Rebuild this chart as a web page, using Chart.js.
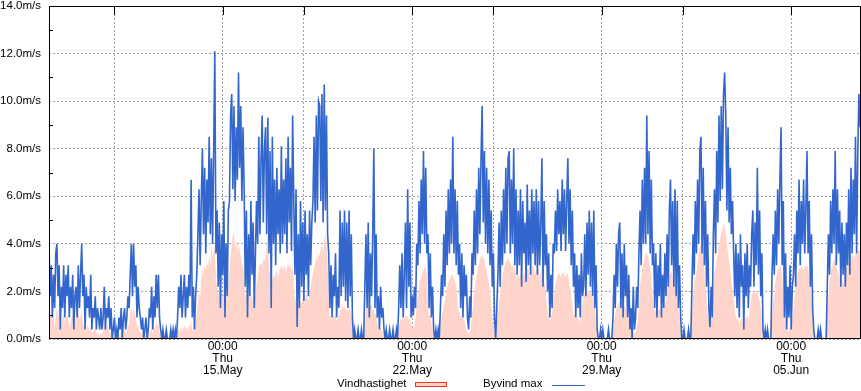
<!DOCTYPE html>
<html>
<head>
<meta charset="utf-8">
<script src="https://cdn.jsdelivr.net/npm/chart.js@4.4.1/dist/chart.umd.min.js"></script>
<style>
  body { margin: 0; background: #fff; }
  #wrap { position: relative; width: 861px; height: 391px; font-family: 'Liberation Sans', Arial, sans-serif; font-size: 11.5px; color: #000; }
  .leg { position: absolute; top: 376px; line-height: 14px; white-space: nowrap; }
  #boxAvg { position: absolute; left: 415px; top: 382px; width: 30px; height: 3px; border: 1px solid #ee3a1c; background: #ffd5cb; }
  #lineMax { position: absolute; left: 552px; top: 385px; width: 33px; height: 1px; background: #3366cc; }
</style>
</head>
<body>
<div id="wrap">
  <canvas id="wind" width="861" height="391"></canvas>
  <div class="leg" style="left:337px">Vindhastighet</div>
  <div id="boxAvg"></div>
  <div class="leg" style="left:483px">Byvind max</div>
  <div id="lineMax"></div>
</div>
<script>
// hourly values, first value = 8.May 14:00, one row per 24 hours
var byvindMax = [
  4.0,1.8,3.1,0.9,2.7,1.3,3.6,4.0,1.8,3.1,0.4,2.2,1.3,3.1,0.9,2.7,1.8,3.1,0.9,2.2,1.3,2.7,0.4,1.8,
  2.2,0.9,3.1,1.3,2.7,4.0,1.8,2.7,0.4,2.2,1.3,1.8,0.9,2.7,0.4,1.3,0.9,1.8,0.4,1.3,0.9,0.4,1.3,0.4,
  0.9,2.2,0.4,1.3,0.9,1.8,0.4,1.3,0.0,0.4,0.9,0.0,0.4,0.0,0.9,0.4,1.3,0.0,0.9,1.3,0.4,0.9,1.8,1.3,
  2.7,4.0,1.8,4.0,2.2,3.1,0.9,2.2,1.3,0.9,0.4,0.9,0.0,0.4,0.9,0.0,0.4,1.3,0.9,2.2,0.4,1.8,0.9,2.7,
  1.3,2.7,0.9,0.4,0.0,0.4,0.0,0.0,0.4,0.0,0.0,0.0,0.4,0.0,0.4,0.0,0.4,0.0,0.9,2.2,1.3,2.7,0.9,1.8,
  2.7,0.9,2.2,1.3,2.7,1.8,6.7,0.9,2.2,0.4,1.8,2.7,4.4,6.3,3.1,5.8,8.0,4.4,7.2,3.6,6.7,4.9,8.5,4.4,
  7.6,4.0,8.0,12.1,3.6,5.4,2.2,4.9,1.3,4.4,2.7,5.8,0.9,4.0,1.8,5.4,5.8,9.4,10.3,6.3,9.8,5.8,8.9,6.7,
  11.2,7.2,9.8,5.8,8.9,6.3,2.2,5.4,0.9,4.4,1.8,5.8,2.7,4.9,1.3,3.6,5.8,4.0,8.5,4.4,7.6,9.4,4.9,8.0,
  8.9,4.4,9.3,3.6,7.9,1.3,8.5,4.0,6.7,3.1,7.2,4.4,6.3,3.6,8.1,4.0,6.7,4.4,7.6,3.6,8.5,4.9,7.2,3.7,
  9.4,5.8,2.7,6.3,0.5,4.4,1.3,5.8,2.2,4.9,1.6,5.4,2.7,4.4,1.8,5.4,3.1,4.9,5.8,8.5,4.9,9.4,5.4,10.0,
  9.8,5.8,10.3,4.9,10.7,5.4,9.4,4.4,3.6,1.3,3.1,0.9,2.7,1.8,3.6,0.9,2.2,1.3,5.4,1.8,4.9,2.2,5.4,1.6,
  4.9,1.3,5.4,1.8,4.4,0.9,0.0,0.4,0.0,0.0,0.4,0.0,0.0,0.4,0.0,0.0,2.2,4.4,1.3,4.9,0.9,3.6,1.8,4.4,
  8.0,1.3,4.4,0.9,1.8,0.4,2.2,0.9,1.3,0.4,0.0,0.4,0.0,0.0,0.4,0.0,0.0,0.4,0.0,0.0,0.4,0.0,1.3,3.1,
  1.3,3.6,0.9,2.7,4.9,1.3,6.3,2.2,4.9,0.9,1.8,1.0,2.2,1.3,4.0,3.1,5.8,3.6,6.7,4.4,7.9,4.0,7.2,3.6,
  4.4,1.3,3.6,0.9,2.2,0.4,0.0,0.4,0.0,0.4,0.0,1.3,2.7,1.8,4.4,2.2,5.4,3.1,6.3,3.6,6.7,4.0,8.5,3.6,
  6.3,3.1,5.8,2.7,4.0,1.3,3.6,0.9,3.1,1.8,2.7,0.9,0.4,1.8,0.9,3.6,2.7,5.4,3.1,6.3,3.6,7.2,4.4,7.6,
  9.8,4.9,7.9,4.0,7.2,3.6,6.7,3.1,5.4,2.2,3.6,0.9,0.0,1.3,2.7,4.9,2.2,5.4,3.1,6.3,3.6,7.2,4.0,7.6,
  7.9,3.6,6.7,4.0,8.0,3.1,6.3,2.7,5.4,3.1,6.3,2.2,5.8,3.6,4.9,2.4,6.5,3.1,5.4,2.7,6.3,3.6,5.8,3.1,
  6.3,2.7,5.8,3.1,4.9,7.6,2.2,5.8,3.1,4.4,2.0,3.6,0.9,2.7,1.3,4.0,3.6,5.4,3.7,6.3,4.4,5.8,3.7,6.7,
  4.4,6.3,3.7,5.8,7.6,4.0,6.3,3.1,5.4,2.2,3.6,0.9,3.1,1.3,2.7,0.9,3.6,1.8,2.2,4.4,1.8,4.9,2.7,5.4,
  2.2,4.9,1.8,5.4,1.3,3.1,0.4,0.0,0.0,0.4,0.0,0.4,0.0,0.0,0.0,0.0,0.4,0.0,0.0,0.0,0.9,2.7,1.3,4.0,
  2.2,4.4,4.9,1.3,3.6,0.9,4.0,1.8,3.1,0.9,2.7,0.4,1.3,0.0,2.2,0.4,0.9,2.2,1.3,3.6,5.4,3.1,6.7,4.0,
  7.2,4.0,9.4,4.4,7.9,3.6,6.7,3.1,4.0,1.3,3.6,0.9,3.1,1.8,4.0,0.9,2.7,1.3,3.6,1.8,4.4,2.2,5.4,6.7,
  3.1,5.8,2.2,6.3,1.8,5.8,1.3,3.1,0.9,0.0,0.0,0.4,0.0,0.0,0.0,0.4,0.0,0.0,2.2,4.4,2.7,5.8,3.6,6.7,
  4.0,7.9,8.5,3.6,7.2,3.1,5.8,2.2,4.4,1.3,0.5,2.2,0.9,4.4,6.3,3.6,7.9,4.9,9.4,5.8,9.8,6.3,10.3,11.2,
  9.4,5.4,8.9,4.9,7.2,4.4,5.8,3.6,1.8,4.0,1.3,3.6,0.9,4.4,2.2,3.1,0.4,3.6,1.8,4.0,1.3,3.1,2.2,4.4,
  5.4,2.2,4.9,3.1,7.2,2.7,5.4,1.8,3.6,0.4,0.0,0.4,0.0,0.4,0.0,0.0,0.0,2.7,4.4,2.7,5.4,3.1,6.3,4.0,
  6.7,8.9,3.1,5.8,0.9,3.6,0.4,2.2,0.9,3.1,0.4,2.2,2.7,4.4,2.2,5.4,3.6,6.7,3.1,5.8,4.0,6.7,3.6,5.4,
  7.9,3.6,5.8,2.2,4.4,1.3,0.4,0.0,0.0,0.0,0.4,0.0,0.4,0.0,0.0,0.0,0.0,0.0,2.2,4.4,2.7,5.8,3.6,6.3,
  4.0,7.9,3.1,6.3,3.6,5.4,2.2,4.9,2.7,4.4,2.2,4.9,3.1,6.3,2.7,7.2,3.6,6.7,4.4,8.5,3.6,7.6,10.3,8.9
];

var vindhastighet = [
  1.3,1.0,1.2,0.8,1.0,0.5,0.9,1.3,1.1,0.8,0.4,0.6,0.9,1.1,0.7,0.9,1.0,0.8,0.5,0.7,0.9,1.0,0.4,0.6,
  0.9,1.1,1.2,0.8,1.0,1.2,0.7,0.5,0.3,0.4,0.6,0.5,0.3,0.6,0.2,0.3,0.4,0.5,0.2,0.3,0.2,0.1,0.3,0.2,
  0.3,0.7,0.4,0.5,0.6,0.4,0.2,0.3,0.0,0.1,0.2,0.0,0.1,0.0,0.2,0.1,0.3,0.0,0.2,0.4,0.2,0.3,0.6,0.5,
  1.2,1.3,1.0,1.3,1.1,0.9,0.5,0.6,0.4,0.3,0.2,0.3,0.0,0.1,0.2,0.0,0.1,0.3,0.3,0.5,0.2,0.6,0.4,0.7,
  0.5,0.7,0.3,0.1,0.0,0.1,0.0,0.0,0.1,0.0,0.0,0.0,0.1,0.0,0.1,0.0,0.1,0.0,0.2,0.4,0.3,0.5,0.3,0.4,
  0.6,0.4,0.5,0.3,0.6,0.5,0.8,0.3,0.5,0.3,0.6,1.0,1.5,2.0,1.8,2.5,3.0,2.6,3.1,2.9,3.3,3.0,3.5,3.1,
  4.0,3.4,3.8,3.9,2.5,2.2,1.8,2.0,1.5,2.0,1.7,2.1,1.2,1.9,1.6,2.2,2.8,3.5,4.0,4.4,4.5,3.8,4.2,3.6,
  4.0,3.7,3.5,3.0,3.2,2.6,1.8,2.0,1.5,1.9,1.7,2.0,1.6,1.9,1.4,1.8,2.3,2.6,3.0,3.1,3.2,3.1,3.4,3.3,
  3.5,4.0,4.4,3.0,2.6,1.5,2.5,2.7,2.6,2.8,2.9,2.6,2.8,3.0,3.1,2.9,3.0,3.1,2.8,3.0,3.2,3.0,3.1,2.9,
  3.0,2.5,1.6,1.8,1.2,1.5,1.4,1.6,1.5,1.8,1.4,1.7,1.9,1.8,1.6,2.0,2.2,2.5,2.8,3.0,3.2,3.5,3.3,3.6,
  3.5,3.8,4.0,3.6,4.2,4.4,4.0,3.2,1.5,1.0,0.9,0.8,1.0,0.9,1.1,0.7,0.9,1.0,1.3,1.2,1.5,1.3,1.4,1.2,
  1.3,1.1,1.4,1.2,1.0,0.6,0.1,0.1,0.0,0.0,0.1,0.0,0.0,0.1,0.0,0.0,0.6,1.2,1.4,1.6,1.3,1.5,1.4,1.2,
  1.3,1.0,1.1,0.7,0.6,0.3,0.5,0.3,0.3,0.1,0.0,0.1,0.0,0.0,0.1,0.0,0.0,0.1,0.0,0.0,0.1,0.0,0.4,0.7,
  0.8,0.9,0.8,0.9,1.0,0.9,1.0,0.8,0.9,0.6,0.5,0.4,0.6,0.9,1.4,1.8,2.2,2.5,2.6,2.8,2.9,3.0,3.0,2.7,
  1.5,1.0,1.0,0.6,0.4,0.1,0.0,0.1,0.0,0.1,0.0,0.4,0.9,1.1,1.4,1.6,2.0,2.2,2.4,2.5,2.6,2.7,2.7,2.5,
  2.4,2.2,1.8,1.2,1.1,0.9,1.0,0.9,0.8,0.6,0.4,0.3,0.2,0.3,0.5,1.0,1.4,2.0,2.3,2.6,2.9,3.1,3.3,3.5,
  3.5,3.4,3.3,3.0,2.9,2.6,2.4,2.0,1.6,1.0,0.6,0.3,0.1,0.4,1.0,1.5,2.0,2.3,2.6,2.9,3.1,3.3,3.3,3.4,
  3.3,3.2,3.1,3.0,3.3,2.9,2.8,2.6,2.7,2.5,2.8,2.4,2.6,2.8,2.7,2.5,2.9,3.0,2.8,2.6,3.0,3.1,2.9,2.7,
  2.9,2.8,3.0,2.6,2.8,3.0,2.5,2.4,2.2,1.6,1.2,1.0,0.8,0.9,1.1,1.6,2.0,2.3,2.5,2.7,2.8,2.7,2.6,2.8,
  2.8,2.7,2.6,2.8,2.7,2.4,2.2,1.8,1.4,1.0,1.1,0.8,1.0,0.9,0.8,0.7,1.2,1.5,1.8,2.0,1.9,2.1,2.0,1.9,
  2.0,1.9,1.7,1.8,1.3,0.8,0.2,0.0,0.0,0.1,0.0,0.1,0.0,0.0,0.0,0.0,0.1,0.0,0.0,0.0,0.3,0.8,1.0,1.3,
  1.4,1.5,1.6,1.4,1.5,1.2,1.4,1.3,1.2,0.8,0.9,0.5,0.3,0.1,0.3,0.2,0.3,0.5,0.8,1.4,2.2,2.6,3.0,3.2,
  3.4,3.6,3.6,3.5,3.3,3.0,2.6,2.0,1.4,1.2,1.2,1.1,1.2,1.3,1.2,1.0,1.1,1.3,1.5,1.6,2.0,2.4,2.7,2.8,
  2.8,2.6,2.5,2.3,2.0,1.8,1.2,0.8,0.3,0.0,0.0,0.1,0.0,0.0,0.0,0.1,0.0,0.0,1.0,1.8,2.3,2.6,2.8,3.2,
  3.6,3.9,4.0,3.8,3.4,3.0,2.4,1.6,1.0,0.8,0.6,0.9,1.4,2.2,2.8,3.0,3.4,3.6,4.0,4.2,4.5,4.6,4.9,4.7,
  4.4,4.0,3.6,3.2,2.8,2.4,2.1,1.8,1.2,0.9,0.8,0.9,0.6,0.8,0.9,0.7,0.5,0.8,0.9,1.0,0.8,1.1,1.5,1.9,
  1.9,2.0,1.9,2.0,2.1,1.8,1.6,1.3,0.9,0.3,0.0,0.1,0.0,0.1,0.0,0.0,0.0,0.8,1.5,2.0,2.4,2.7,2.9,3.0,
  3.1,3.0,2.6,2.0,1.2,0.8,0.3,0.4,0.3,0.6,0.4,0.8,1.3,1.8,2.2,2.5,2.8,3.0,2.9,3.1,3.0,2.9,3.1,3.0,
  3.1,3.0,2.6,2.1,1.5,0.8,0.2,0.0,0.0,0.0,0.1,0.0,0.1,0.0,0.0,0.0,0.0,0.0,1.0,1.8,2.4,2.8,3.0,3.2,
  3.3,3.4,3.1,2.9,2.7,2.5,2.4,2.6,2.3,2.5,2.8,3.0,3.1,3.3,3.2,3.4,3.5,3.6,3.4,3.6,3.7,3.6,3.8,3.7
];

// x ticks in hours from the first value (Sun and Thu 00:00)
var tickHours = [58, 154, 226, 322, 394, 490, 562, 658];
var tickLabels = [
  '', ['00:00', 'Thu', '15.May'],
  '', ['00:00', 'Thu', '22.May'],
  '', ['00:00', 'Thu', '29.May'],
  '', ['00:00', 'Thu', '05.Jun']
];
var minorY = [1, 3, 5, 7, 9, 11, 13];

var fontFamily = "'Liberation Sans', Arial, sans-serif";

function toPoints(arr) {
    return arr.map(function(v, i) { return {x: i, y: v}; });
}

// frame, inner tick marks
var framePlugin = {
    id: 'frame',
    afterDraw: function(chart) {
        var ctx = chart.ctx, a = chart.chartArea;
        var xs = chart.scales.x, ys = chart.scales.y;
        ctx.save();
        ctx.strokeStyle = '#000';
        ctx.lineWidth = 1;
        ctx.strokeRect(a.left + 0.5, a.top + 0.5, a.right - a.left, a.bottom - a.top - 1);
        ctx.beginPath();
        minorY.forEach(function(v) {
            var y = Math.round(ys.getPixelForValue(v)) + 0.5;
            ctx.moveTo(a.left, y);
            ctx.lineTo(a.left + 4, y);
        });
        tickHours.forEach(function(h) {
            var x = Math.round(xs.getPixelForValue(h)) + 0.5;
            ctx.moveTo(x, a.top);
            ctx.lineTo(x, a.top + 9);
        });
        ctx.stroke();
        ctx.restore();
    }
};

var ctx = document.getElementById('wind').getContext('2d');

var windChart = new Chart(ctx, {
    type: 'line',
    data: {
        datasets: [{
            label: 'Vindhastighet',
            data: toPoints(vindhastighet),
            borderColor: 'rgba(0,0,0,0)',
            borderWidth: 0,
            backgroundColor: '#ffd5cb',
            fill: 'origin',
            pointRadius: 0,
            order: 1
        }, {
            label: 'Byvind max',
            data: toPoints(byvindMax),
            borderColor: '#3366cc',
            borderWidth: 1.6,
            fill: false,
            pointRadius: 0,
            tension: 0,
            order: 0
        }]
    },
    options: {
        responsive: false,
        animation: false,
        events: [],
        layout: {
            padding: { top: 6, right: 1, left: 0, bottom: 0 }
        },
        plugins: {
            legend: { display: false },
            tooltip: { enabled: false }
        },
        scales: {
            x: {
                type: 'linear',
                min: 0,
                max: 719,
                afterBuildTicks: function(scale) {
                    scale.ticks = tickHours.map(function(h) { return {value: h}; });
                },
                afterFit: function(scale) {
                    scale.height = 52;
                    scale.paddingLeft = 0;
                    scale.paddingRight = 0;
                },
                grid: { color: '#a0a0a0', lineWidth: 1, drawTicks: false },
                border: { display: false, dash: [2, 2] },
                ticks: {
                    autoSkip: false,
                    maxRotation: 0,
                    padding: 2,
                    color: '#000',
                    font: { family: fontFamily, size: 12, lineHeight: 1.0 },
                    callback: function(value, index) { return tickLabels[index]; }
                }
            },
            y: {
                min: 0,
                max: 14,
                afterFit: function(scale) {
                    scale.width = 49;
                    scale.paddingTop = 0;
                    scale.paddingBottom = 0;
                },
                grid: { color: '#a0a0a0', lineWidth: 1, drawTicks: false },
                border: { display: false, dash: [2, 2] },
                ticks: {
                    stepSize: 2,
                    padding: 8,
                    color: '#000',
                    font: { family: fontFamily, size: 11.5 },
                    callback: function(value) { return value.toFixed(1) + 'm/s'; }
                }
            }
        }
    },
    plugins: [framePlugin]
});
</script>
</body>
</html>
